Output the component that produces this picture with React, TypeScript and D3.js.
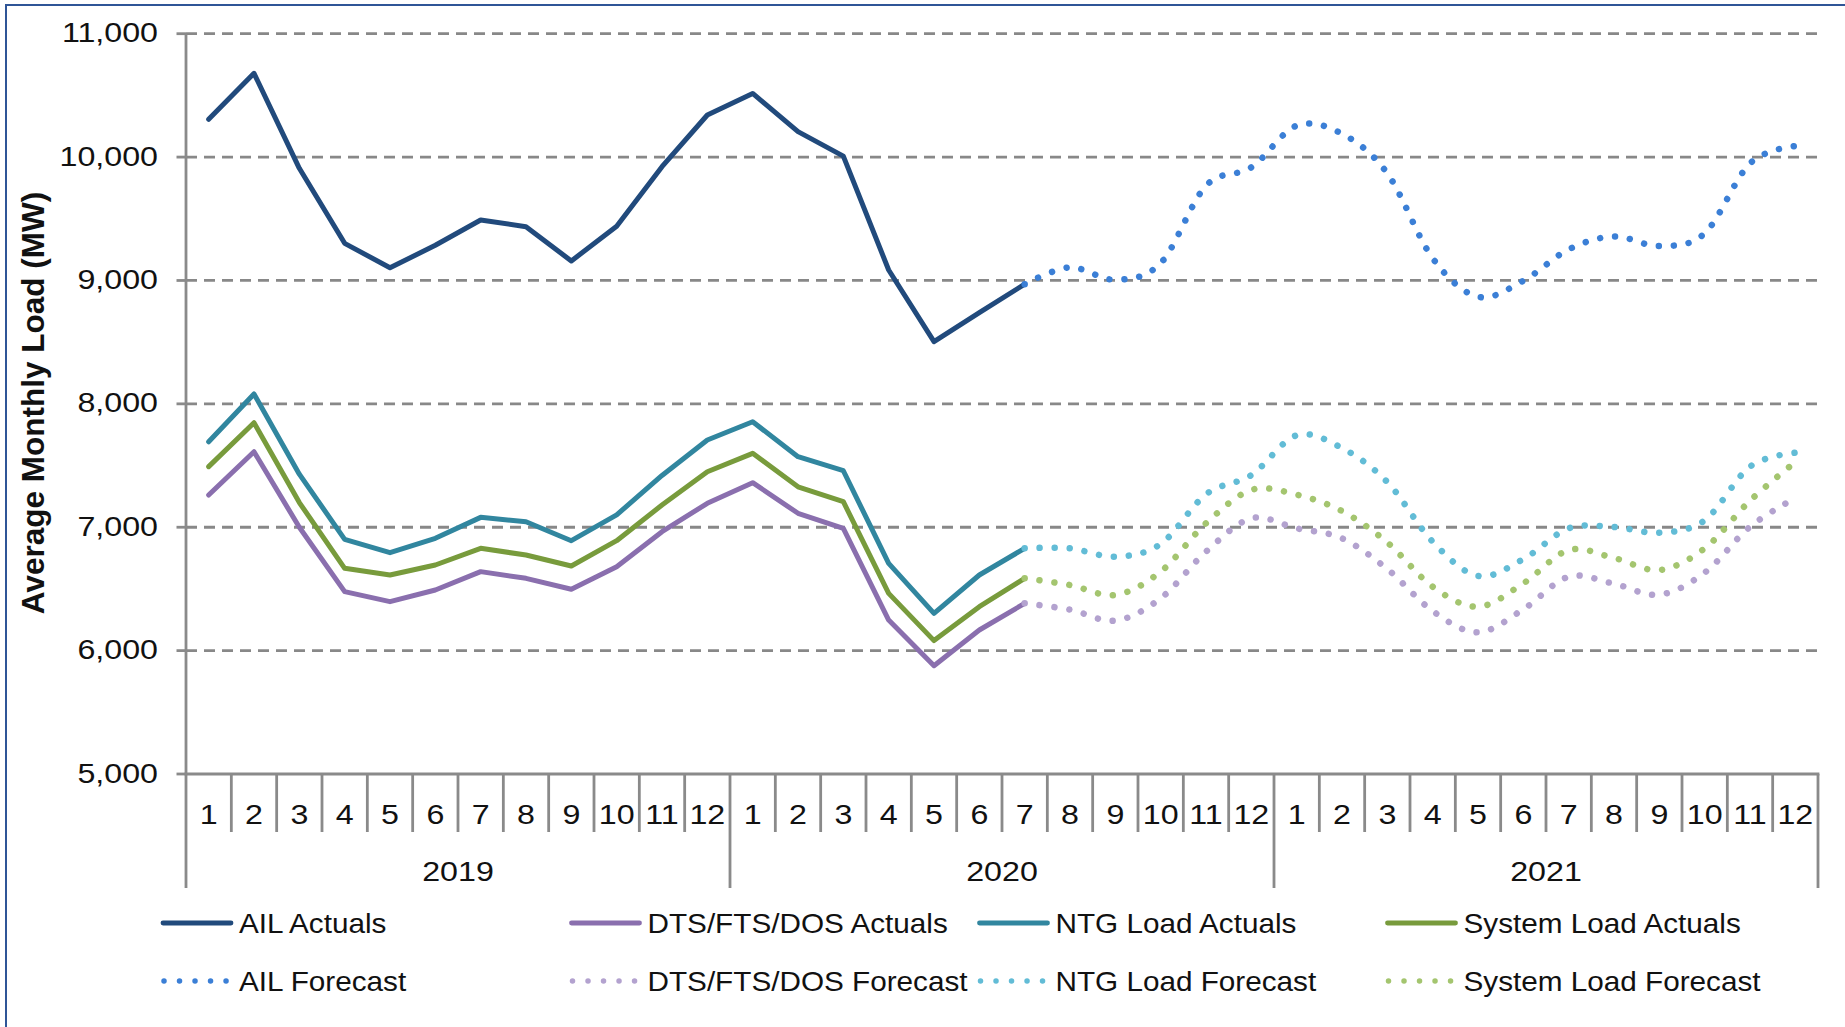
import React from "react";
import * as d3 from "d3";

// ---------- data ----------
const years = ["2019", "2020", "2021"];
const monthLabels = ["1", "2", "3", "4", "5", "6", "7", "8", "9", "10", "11", "12"];
const yTicks = [5000, 6000, 7000, 8000, 9000, 10000, 11000];

// actuals: 2019-01 .. 2020-07 (19 months)
const ailActuals = [10306, 10679, 9909, 9301, 9103, 9285, 9490, 9436, 9158, 9440, 9922, 10341, 10516, 10206, 10008, 9085, 8504, 8740, 8970];
const dtsActuals = [7261, 7612, 7000, 6478, 6397, 6491, 6640, 6586, 6497, 6680, 6964, 7194, 7361, 7113, 6991, 6248, 5878, 6167, 6383];
const ntgActuals = [7693, 8080, 7430, 6902, 6794, 6910, 7080, 7045, 6891, 7100, 7420, 7707, 7855, 7572, 7458, 6707, 6302, 6613, 6829];
const sysActuals = [7491, 7847, 7200, 6667, 6613, 6694, 6829, 6775, 6686, 6891, 7180, 7450, 7599, 7328, 7207, 6464, 6081, 6356, 6586];

// forecasts: 2020-07 .. 2021-12 (18 months)
const ailForecast = [8970, 9106, 9006, 9140, 9768, 9917, 10255, 10189, 9868, 9180, 8868, 8998, 9252, 9357, 9279, 9382, 9949, 10090];
const dtsForecast = [6383, 6332, 6243, 6424, 6802, 7072, 6991, 6910, 6661, 6321, 6148, 6335, 6599, 6542, 6453, 6632, 7004, 7237];
const ntgForecast = [6829, 6829, 6761, 6864, 7267, 7423, 7745, 7642, 7366, 6883, 6605, 6742, 6991, 7002, 6956, 7056, 7491, 7604];
const sysForecast = [6586, 6532, 6451, 6640, 7032, 7302, 7264, 7131, 6877, 6518, 6356, 6545, 6815, 6751, 6653, 6829, 7215, 7529];

const actualStart = 0;
const forecastStart = 18;

type Series = { name: string; values: number[]; start: number; color: string; dotted: boolean };

const series: Series[] = [
  { name: "AIL Actuals", values: ailActuals, start: actualStart, color: "#214a7c", dotted: false },
  { name: "DTS/FTS/DOS Actuals", values: dtsActuals, start: actualStart, color: "#8a6fae", dotted: false },
  { name: "NTG Load Actuals", values: ntgActuals, start: actualStart, color: "#31869f", dotted: false },
  { name: "System Load Actuals", values: sysActuals, start: actualStart, color: "#789b3c", dotted: false },
  { name: "AIL Forecast", values: ailForecast, start: forecastStart, color: "#3b7fd6", dotted: true },
  { name: "DTS/FTS/DOS Forecast", values: dtsForecast, start: forecastStart, color: "#b3a2cf", dotted: true },
  { name: "NTG Load Forecast", values: ntgForecast, start: forecastStart, color: "#62bcd6", dotted: true },
  { name: "System Load Forecast", values: sysForecast, start: forecastStart, color: "#a4c56f", dotted: true },
];

// ---------- layout ----------
const W = 1845;
const H = 1027;
const plotLeft = 186;
const plotRight = 1818;
const plotTop = 33.7;
const plotBottom = 774;
const FONT = "'Liberation Sans', Arial, Helvetica, sans-serif";
const GRID = "#888888";
const AXIS = "#8a8a8a";

const nMonths = years.length * monthLabels.length;
const x = d3.scaleBand<number>().domain(d3.range(nMonths)).range([plotLeft, plotRight]).padding(0);
const y = d3.scaleLinear().domain([5000, 11000]).range([plotBottom, plotTop]);
const cx = (i: number) => (x(i) as number) + x.bandwidth() / 2;

const fmt = d3.format(",");

const legendCols = [161, 569.5, 977.5, 1385.5];
const legendRows = [923, 981];

export default function App() {
  const makePath = (s: Series) => {
    const gen = d3
      .line<number>()
      .x((_, i) => cx(s.start + i))
      .y((d) => y(d))
      .curve(s.dotted ? d3.curveCatmullRom.alpha(0) : d3.curveLinear);
    return gen(s.values) || "";
  };

  const bw = x.bandwidth();

  return (
    <svg
      width={W}
      height={H}
      style={{ position: "absolute", left: 0, top: 0, background: "#fff" }}
      fontFamily={FONT}
    >
      <rect x={0} y={0} width={W} height={H} fill="#fff" />
      {/* outer border (only left and top edges visible) */}
      <rect x={6} y={5} width={W + 100} height={H + 100} fill="none" stroke="#2f5597" strokeWidth={2} />

      {/* gridlines */}
      {yTicks
        .filter((t) => t !== 5000)
        .map((t) => (
          <line
            key={"g" + t}
            x1={plotLeft}
            x2={plotRight}
            y1={y(t)}
            y2={y(t)}
            stroke={GRID}
            strokeWidth={2.8}
            strokeDasharray="11 7"
          />
        ))}

      {/* y axis */}
      <line x1={plotLeft} x2={plotLeft} y1={plotTop} y2={plotBottom} stroke={AXIS} strokeWidth={2.8} />
      {yTicks.map((t) => (
        <g key={"yt" + t}>
          <line x1={176.5} x2={plotLeft} y1={y(t)} y2={y(t)} stroke={AXIS} strokeWidth={2.8} />
          <text
            transform={`translate(158,${y(t) + 8.6}) scale(1.15,1)`}
            textAnchor="end"
            fontSize={28}
            fill="#111"
          >
            {fmt(t)}
          </text>
        </g>
      ))}

      {/* y axis title */}
      <text
        transform={`translate(44,403) rotate(-90)`}
        textAnchor="middle"
        fontSize={31.5}
        fontWeight="bold"
        fill="#111"
      >
        Average Monthly Load (MW)
      </text>

      {/* x axis */}
      <line x1={plotLeft - 1.4} x2={plotRight + 1.4} y1={plotBottom} y2={plotBottom} stroke={AXIS} strokeWidth={2.8} />
      {d3.range(nMonths + 1).map((i) => {
        const xx = i < nMonths ? (x(i) as number) : plotRight;
        const isYear = i % 12 === 0;
        return (
          <line
            key={"sep" + i}
            x1={xx}
            x2={xx}
            y1={plotBottom}
            y2={isYear ? 888 : 832}
            stroke={AXIS}
            strokeWidth={2.8}
          />
        );
      })}
      {d3.range(nMonths).map((i) => (
        <text
          key={"ml" + i}
          transform={`translate(${cx(i)},824) scale(1.15,1)`}
          textAnchor="middle"
          fontSize={28}
          fill="#111"
        >
          {monthLabels[i % 12]}
        </text>
      ))}
      {years.map((yr, k) => (
        <text
          key={"yr" + yr}
          transform={`translate(${(x(k * 12) as number) + bw * 6},881) scale(1.15,1)`}
          textAnchor="middle"
          fontSize={28}
          fill="#111"
        >
          {yr}
        </text>
      ))}

      {/* series */}
      {series.map((s) => (
        <path
          key={s.name}
          d={makePath(s)}
          fill="none"
          stroke={s.color}
          strokeWidth={s.dotted ? 6.5 : 5}
          strokeLinejoin="round"
          strokeLinecap="round"
          strokeDasharray={s.dotted ? "0.01 15" : undefined}
        />
      ))}

      {/* legend */}
      {series.map((s, k) => {
        const col = k % 4;
        const row = Math.floor(k / 4);
        const lx = legendCols[col];
        const ly = legendRows[row];
        return (
          <g key={"lg" + s.name}>
            {s.dotted ? (
              <line
                x1={lx + 3}
                x2={lx + 68}
                y1={ly}
                y2={ly}
                stroke={s.color}
                strokeWidth={5.5}
                strokeLinecap="round"
                strokeDasharray="0.01 15.5"
              />
            ) : (
              <line
                x1={lx + 2}
                x2={lx + 70}
                y1={ly}
                y2={ly}
                stroke={s.color}
                strokeWidth={4.8}
                strokeLinecap="round"
              />
            )}
            <text
              transform={`translate(${lx + 78},${ly + 10}) scale(1.08,1)`}
              fontSize={27.5}
              fill="#111"
            >
              {s.name}
            </text>
          </g>
        );
      })}
    </svg>
  );
}
